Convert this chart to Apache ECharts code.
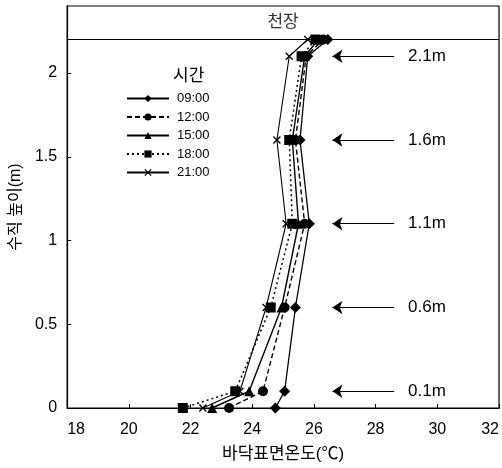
<!DOCTYPE html>
<html><head><meta charset="utf-8">
<script src="https://cdn.jsdelivr.net/npm/echarts@6/dist/echarts.min.js"></script>
<style>html,body{margin:0;padding:0;background:#fff}#c{width:502px;height:468px}</style>
</head><body><div id="c"></div>
<script>
const heights = [0, 0.1, 0.6, 1.1, 1.6, 2.1, 2.2];
const t0900 = [24.75, 25.05, 25.4, 25.85, 25.55, 25.8, 26.45];
const t1200 = [23.25, 24.35, 25.05, 25.7, 25.4, 25.75, 26.3];
const t1500 = [22.7, 23.9, 24.95, 25.5, 25.3, 25.7, 26.15];
const t1800 = [21.75, 23.45, 24.6, 25.3, 25.2, 25.6, 26.05];
const t2100 = [22.4, 23.6, 24.45, 25.1, 24.8, 25.2, 25.8];
const seriesNames = ['09:00', '12:00', '15:00', '18:00', '21:00'];
const arrowHeights = [2.1, 1.6, 1.1, 0.6, 0.1];
const arrowLabels = ['2.1m', '1.6m', '1.1m', '0.6m', '0.1m'];
const arrowFrom = 28.6, arrowTo = 26.6;
const ceilingHeight = 2.2, ceilingLabel = '천장', ceilingLabelPos = [25, 2.3];
const xMin = 18, xMax = 32, xStep = 2, yMin = 0, yMax = 2.4, yStep = 0.5;

const FONT = 'Liberation Sans, Arial, Helvetica, Noto Sans CJK KR, sans-serif';
const xMark = 'path://M0,1.2 L1.2,0 L10,8.8 L8.8,10 Z M8.8,0 L10,1.2 L1.2,10 L0,8.8 Z';
const sets = [t0900, t1200, t1500, t1800, t2100];
const symbols = ['diamond', 'circle', 'triangle', 'rect', xMark];
const sizes = [11, 10, 10, 10, 8];
const lineTypes = ['solid', [5, 3], 'solid', [2, 3], 'solid'];
const lineWidths = [1.3, 1.4, 1.4, 1.5, 1.1];

const series = sets.map((arr, i) => ({
  name: seriesNames[i], type: 'line',
  data: arr.map((t, k) => [t, heights[k]]),
  symbol: symbols[i], symbolSize: sizes[i],
  itemStyle: { color: '#000' },
  lineStyle: { color: '#000', width: lineWidths[i], type: lineTypes[i] },
  z: 5 - i
}));

series.push({
  type: 'line', silent: true, symbol: 'none',
  data: [[xMin, ceilingHeight], [xMax, ceilingHeight]],
  lineStyle: { color: '#000', width: 1.2 }
});
series.push({
  type: 'scatter', silent: true, symbolSize: 0,
  data: [ceilingLabelPos],
  label: { show: true, position: 'inside', formatter: ceilingLabel, color: '#000', fontSize: 17, fontFamily: FONT }
});
series.push({
  type: 'line', silent: true, symbol: 'none', data: [],
  markLine: {
    silent: true, animation: false,
    lineStyle: { color: '#000', width: 1.2, type: 'solid' },
    label: { show: true, position: 'start', distance: 14, color: '#000', fontSize: 17, fontFamily: FONT },
    symbolSize: 10,
    data: arrowHeights.map((h, i) => [
      { coord: [arrowFrom, h], symbol: 'none', name: arrowLabels[i], label: { formatter: arrowLabels[i] } },
      { coord: [arrowTo, h], symbol: 'arrow' }
    ])
  }
});

const chart = echarts.init(document.getElementById('c'), null, { renderer: 'canvas' });
chart.setOption({
  animation: false,
  backgroundColor: '#fff',
  textStyle: { fontFamily: FONT },
  title: { text: '시간', left: 168, top: 63, textStyle: { fontSize: 17, fontWeight: 'normal', color: '#000', fontFamily: FONT } },
  legend: {
    data: seriesNames, orient: 'vertical', left: 121, top: 87,
    itemWidth: 42, itemHeight: 9, itemGap: 5.5,
    textStyle: { fontSize: 13, color: '#000', fontFamily: FONT, padding: [0, 0, 0, 3] }
  },
  grid: { left: 67, right: 1, top: 6, bottom: 60, show: true, borderColor: '#000', borderWidth: 1.2 },
  xAxis: {
    type: 'value', min: xMin, max: xMax, interval: xStep,
    name: '바닥표면온도(℃)', nameLocation: 'middle', nameGap: 38,
    nameTextStyle: { fontSize: 17, color: '#000', fontFamily: FONT },
    axisLine: { lineStyle: { color: '#000', width: 1.2 } },
    axisTick: { inside: true, length: 4, lineStyle: { color: '#000' } },
    axisLabel: { fontSize: 16, color: '#000', margin: 14, alignMinLabel: 'left', alignMaxLabel: 'right', fontFamily: FONT },
    splitLine: { show: false }
  },
  yAxis: {
    type: 'value', min: yMin, max: yMax, interval: yStep,
    name: '수직 높이(m)', nameLocation: 'middle', nameGap: 42, nameRotate: 90,
    nameTextStyle: { fontSize: 16, color: '#000', fontFamily: FONT },
    axisLine: { lineStyle: { color: '#000', width: 1.2 } },
    axisTick: { inside: true, length: 4, lineStyle: { color: '#000' } },
    axisLabel: { fontSize: 16, color: '#000', margin: 10, showMaxLabel: false, fontFamily: FONT },
    splitLine: { show: false }
  },
  series: series
});
</script></body></html>
